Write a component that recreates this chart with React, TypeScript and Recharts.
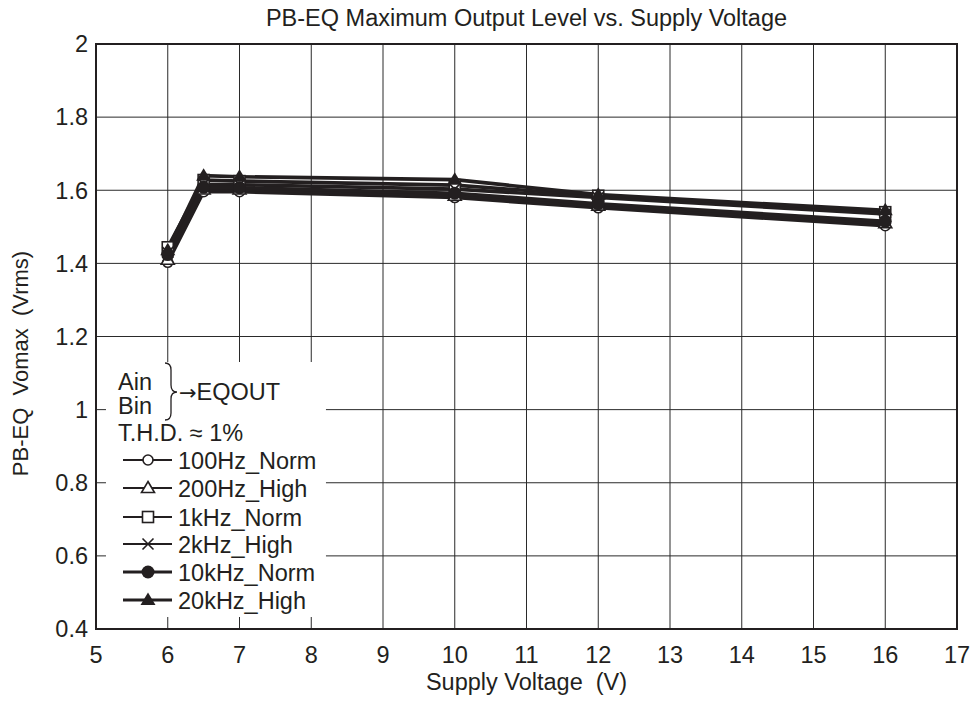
import {
  LineChart,
  Line,
  XAxis,
  YAxis,
  CartesianGrid,
  ReferenceArea,
  Legend,
} from "recharts";

// supply voltage (V) where each curve was measured
const VOLTAGE = [6, 6.5, 7, 10, 12, 16];

// Vomax (Vrms) per test condition
const HZ100_NORM = [1.403, 1.596, 1.596, 1.58, 1.552, 1.503];
const HZ200_HIGH = [1.41, 1.602, 1.602, 1.585, 1.558, 1.51];
const KHZ1_NORM = [1.444, 1.628, 1.625, 1.614, 1.585, 1.54];
const KHZ2_HIGH = [1.43, 1.616, 1.615, 1.603, 1.58, 1.535];
const KHZ10_NORM = [1.424, 1.608, 1.607, 1.592, 1.563, 1.515];
const KHZ20_HIGH = [1.436, 1.64, 1.637, 1.629, 1.588, 1.545];

const SERIES_NAMES = [
  "100Hz_Norm",
  "200Hz_High",
  "1kHz_Norm",
  "2kHz_High",
  "10kHz_Norm",
  "20kHz_High",
];
const MARKERS = ["circle", "triangle", "square", "cross", "dot", "solidTriangle"];

const X_TICKS = [5, 6, 7, 8, 9, 10, 11, 12, 13, 14, 15, 16, 17];
const Y_TICKS = [0.4, 0.6, 0.8, 1, 1.2, 1.4, 1.6, 1.8, 2];

const INK = "#231f20";
const FONT = "'Liberation Sans', Arial, Helvetica, sans-serif";
const FS = 23.5;

const SERIES_VALUES = [HZ100_NORM, HZ200_HIGH, KHZ1_NORM, KHZ2_HIGH, KHZ10_NORM, KHZ20_HIGH];

const data = VOLTAGE.map((v, i) => {
  const row: Record<string, number> = { v };
  SERIES_NAMES.forEach((name, s) => {
    row[name] = SERIES_VALUES[s][i];
  });
  return row;
});

function Marker({ kind, cx, cy }: { kind: string; cx: number; cy: number }) {
  switch (kind) {
    case "circle":
      return <circle cx={cx} cy={cy} r={5} fill="#fff" stroke={INK} strokeWidth={1.6} />;
    case "triangle":
      return (
        <path
          d={`M${cx},${cy - 6.5}L${cx + 6.5},${cy + 4.5}L${cx - 6.5},${cy + 4.5}Z`}
          fill="#fff"
          stroke={INK}
          strokeWidth={1.6}
        />
      );
    case "square":
      return (
        <rect x={cx - 5.5} y={cy - 5.5} width={11} height={11} fill="#fff" stroke={INK} strokeWidth={1.6} />
      );
    case "cross":
      return (
        <path
          d={`M${cx - 5.5},${cy - 5.5}L${cx + 5.5},${cy + 5.5}M${cx + 5.5},${cy - 5.5}L${cx - 5.5},${cy + 5.5}`}
          stroke={INK}
          strokeWidth={1.6}
          fill="none"
        />
      );
    case "dot":
      return <circle cx={cx} cy={cy} r={6.5} fill={INK} />;
    default:
      return <path d={`M${cx},${cy - 7.5}L${cx + 7.5},${cy + 5}L${cx - 7.5},${cy + 5}Z`} fill={INK} />;
  }
}

const ROW_Y = [105, 133, 162, 189, 217, 245];

function LegendBox() {
  const txt = { fontFamily: FONT, fontSize: FS, fill: INK };
  return (
    <svg width={231} height={262} style={{ overflow: "visible" }}>
      <text x={22} y={35} {...txt}>Ain</text>
      <text x={22} y={59} {...txt}>Bin</text>
      <path
        d="M69,8 Q75,8 75,15 L75,30 Q75,37 81,37 Q75,37 75,44 L75,58 Q75,65 69,65"
        fill="none"
        stroke={INK}
        strokeWidth={1.3}
      />
      <text x={83} y={45} {...txt}>
        <tspan fontFamily="'DejaVu Sans', sans-serif" fontSize={21}>→</tspan>EQOUT
      </text>
      <text x={22} y={86} {...txt}>T.H.D. ≈ 1%</text>
      {SERIES_NAMES.map((name, i) => (
        <g key={name}>
          <line
            x1={27}
            x2={76}
            y1={ROW_Y[i]}
            y2={ROW_Y[i]}
            stroke={INK}
            strokeWidth={i >= 4 ? 3 : 2}
          />
          <Marker kind={MARKERS[i]} cx={52} cy={ROW_Y[i]} />
          <text x={82} y={ROW_Y[i] + 8.5} {...txt}>{name}</text>
        </g>
      ))}
    </svg>
  );
}

function YLabel({ viewBox }: any) {
  const cx = viewBox.x + 28;
  const cy = viewBox.y + viewBox.height / 2 + 27;
  return (
    <text
      x={cx}
      y={cy}
      transform={`rotate(-90 ${cx} ${cy})`}
      textAnchor="middle"
      fontFamily={FONT}
      fontSize={22}
      fill={INK}
      style={{ whiteSpace: "pre" }}
    >
      {"PB-EQ  Vomax  (Vrms)"}
    </text>
  );
}

export default function App() {
  return (
    <div
      style={{
        position: "absolute",
        left: 0,
        top: 0,
        width: 974,
        height: 702,
        background: "#fff",
        fontFamily: FONT,
      }}
    >
      <div
        style={{
          position: "absolute",
          left: 96,
          top: 5,
          width: 861,
          textAlign: "center",
          fontSize: FS,
          lineHeight: "27px",
          color: INK,
        }}
      >
        PB-EQ Maximum Output Level vs. Supply Voltage
      </div>
      <LineChart
        width={974}
        height={702}
        data={data}
        margin={{ top: 44, right: 17, bottom: 0, left: 0 }}
      >
        <CartesianGrid stroke="#2a2a2a" strokeWidth={1} verticalValues={X_TICKS} horizontalValues={Y_TICKS} />
        <XAxis
          dataKey="v"
          type="number"
          domain={[5, 17]}
          ticks={X_TICKS}
          interval={0}
          height={73}
          axisLine={false}
          tickLine={false}
          tickSize={0}
          tickMargin={17}
          tick={{ fontSize: FS, fill: INK, fontFamily: FONT }}
          label={{
            value: "Supply Voltage\u00a0 (V)",
            position: "insideBottom",
            offset: 12,
            fontSize: FS,
            fill: INK,
            fontFamily: FONT,
          }}
        />
        <YAxis
          type="number"
          domain={[0.4, 2]}
          ticks={Y_TICKS}
          interval={0}
          width={96}
          axisLine={false}
          tickLine={false}
          tickSize={0}
          tickMargin={8}
          tick={{ fontSize: FS, fill: INK, fontFamily: FONT }}
          label={<YLabel />}
        />
        {/* white panel behind the legend, leaving the inner tick stubs visible */}
        <ReferenceArea x1={5.139} x2={8.205} y1={0.433} y2={1.13} fill="#fff" fillOpacity={1} stroke="none" />
        {SERIES_NAMES.map((name, i) => (
          <Line
            key={name}
            dataKey={name}
            stroke={INK}
            strokeWidth={3.6}
            isAnimationActive={false}
            dot={(p: any) => <Marker key={`${name}-${p.index}`} kind={MARKERS[i]} cx={p.cx} cy={p.cy} />}
            activeDot={false}
          />
        ))}
        <ReferenceArea x1={5} x2={17} y1={0.4} y2={2} fill="none" stroke={INK} strokeWidth={2} />
        <Legend
          layout="horizontal"
          verticalAlign="middle"
          align="center"
          wrapperStyle={{ left: 96, top: 355, width: 231, height: 262 }}
          content={() => <LegendBox />}
        />
      </LineChart>
    </div>
  );
}
